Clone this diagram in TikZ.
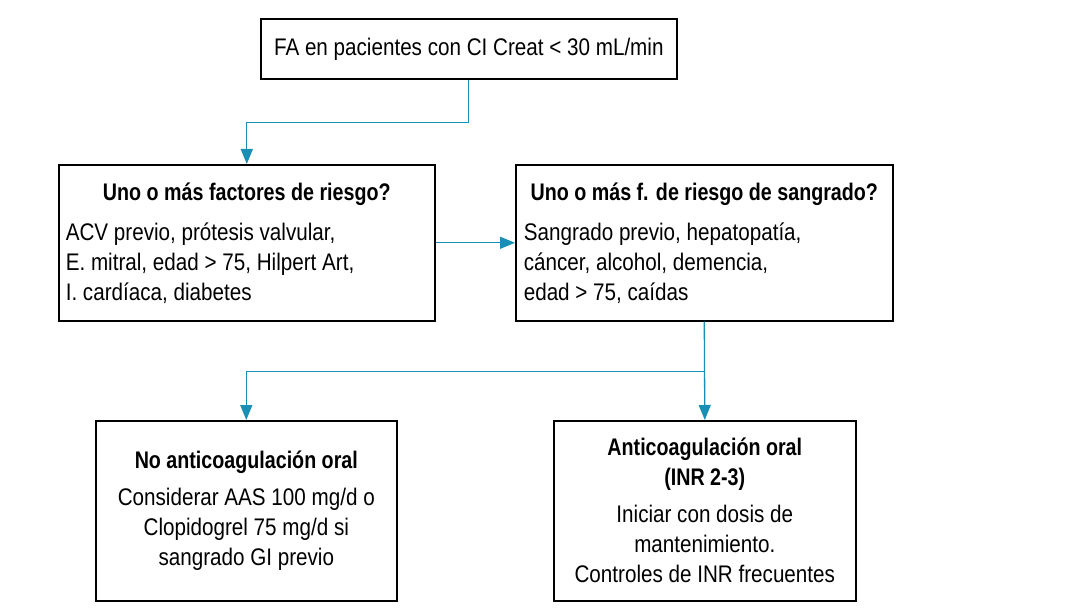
\documentclass[tikz,border=0pt]{standalone}
\usepackage{fontspec}
\setmainfont{Liberation Sans}[FakeStretch=0.86,BoldFeatures={FakeStretch=0.82}]
\usepackage{tikz}
\usetikzlibrary{arrows.meta,calc}
\definecolor{flecha}{HTML}{1A8FB5}

\begin{document}
\begin{tikzpicture}[x=1pt,y=-1pt,
	every node/.style={draw,line width=1.6pt,inner sep=0,font=\fontsize{24}{30}\selectfont},
	caja/.style={rectangle,minimum height=156,minimum width=376,align=left,anchor=north west},
	cajab/.style={rectangle,minimum height=180,minimum width=301,align=center,anchor=north west},
	flujo/.style={draw=flecha,line width=1.3pt,-{Triangle[width=12pt,length=15pt]}}]
\useasboundingbox (0,0) rectangle (1065,609);

\node[rectangle,minimum width=416,minimum height=60,anchor=north west] (fa) at (260,18)
	{FA en pacientes con CI Creat < 30 mL/min};

\node[caja] (fr) at (58,164)
	{\makebox[362pt][c]{\bfseries Uno o más factores de riesgo?}\\[10pt]
	 ACV previo, prótesis valvular,\\
	 E. mitral, edad > 75, Hilpert Art,\\
	 I. cardíaca, diabetes};
\node[caja,minimum width=377] (sg) at (515,164)
	{\makebox[361pt][c]{\bfseries Uno o más f. de riesgo de sangrado?}\\[10pt]
	 Sangrado previo, hepatopatía,\\
	 cáncer, alcohol, demencia,\\
	 edad > 75, caídas};

\node[cajab] (noac) at (95,420)
	{\textbf{No anticoagulación oral}\\[7pt]
	 Considerar AAS 100 mg/d o\\
	 Clopidogrel 75 mg/d si\\
	 sangrado GI previo};
\node[cajab,minimum width=302] (ac) at (553,420)
	{\textbf{Anticoagulación oral}\\
	 \textbf{(INR 2-3)}\\[7pt]
	 Iniciar con dosis de\\
	 mantenimiento.\\
	 Controles de INR frecuentes};

%\draw (fa) -- (fr);
\draw[flujo] (fa.south) -- ++(0,43) -| (fr.north);
\draw[flujo] (fr.east) -- (sg.west);
\draw[flujo] (sg.south) -- (ac.north);
\draw[flujo] ($(sg.south)+(0,50)$) -| (noac.north);

\end{tikzpicture}
\end{document}
